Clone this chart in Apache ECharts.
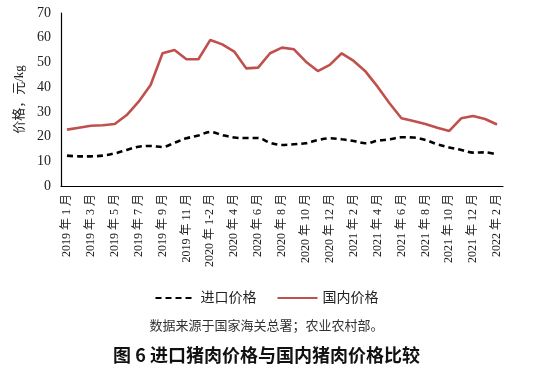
<!DOCTYPE html>
<html><head><meta charset="utf-8">
<script src="https://cdn.jsdelivr.net/npm/echarts@6/dist/echarts.min.js"></script>
<style>html,body{margin:0;padding:0;background:#fff}#c{width:533px;height:375px}</style>
</head><body><div id="c"></div>
<script>
const categories = [
  "2019 年 1 月","2019 年 2 月","2019 年 3 月","2019 年 4 月","2019 年 5 月","2019 年 6 月",
  "2019 年 7 月","2019 年 8 月","2019 年 9 月","2019 年 10 月","2019 年 11 月","2019 年 12 月",
  "2020 年 1-2 月","2020 年 3 月","2020 年 4 月","2020 年 5 月","2020 年 6 月","2020 年 7 月",
  "2020 年 8 月","2020 年 9 月","2020 年 10 月","2020 年 11 月","2020 年 12 月",
  "2021 年 1 月","2021 年 2 月","2021 年 3 月","2021 年 4 月","2021 年 5 月","2021 年 6 月",
  "2021 年 7 月","2021 年 8 月","2021 年 9 月","2021 年 10 月","2021 年 11 月","2021 年 12 月",
  "2022 年 1 月","2022 年 2 月"
];
const importPrice = [12.3,12.0,12.0,12.3,13.2,14.6,15.9,16.2,15.8,17.5,19.3,20.4,
  21.9,20.6,19.6,19.4,19.4,17.5,16.6,16.9,17.3,18.6,19.3,
  18.9,18.2,17.3,18.3,18.9,19.7,19.6,18.6,16.9,15.6,14.6,13.5,13.6,12.7];
const domesticPrice = [22.8,23.6,24.4,24.6,25.1,28.7,34.1,40.9,53.7,55.0,51.3,51.3,
  59.1,57.3,54.4,47.6,47.9,53.7,56.0,55.3,50.3,46.5,49.0,
  53.7,50.6,46.3,40.2,33.5,27.4,26.3,25.1,23.6,22.3,27.4,28.3,27.1,24.9];
const seriesNames = ["进口价格","国内价格"];
const yTicks = {min:0,max:70,interval:10};
const yName = "价格，元/kg";
const sourceText = "数据来源于国家海关总署；农业农村部。";
const titleText = "图 6 进口猪肉价格与国内猪肉价格比较";

const serif = '"Liberation Serif","Noto Sans CJK SC",serif';
const chart = echarts.init(document.getElementById('c'));
chart.setOption({
  animation:false,
  backgroundColor:'#fff',
  grid:{left:61,right:30,top:13,bottom:189,containLabel:false},
  title:[
    {text:sourceText,left:'center',top:314,textStyle:{fontFamily:'"Noto Sans CJK SC"',fontSize:13,fontWeight:'normal',color:'#333'}},
    {text:titleText,left:'center',top:341,textStyle:{fontFamily:'"Noto Sans CJK SC"',fontSize:18,fontWeight:'bold',color:'#111'}}
  ],
  legend:{
    top:286,left:'center',itemGap:20,itemWidth:40,itemHeight:2,
    itemStyle:{opacity:0},
    textStyle:{fontFamily:serif,fontSize:14,color:'#222'},
    data:seriesNames
  },
  xAxis:{
    type:'category',data:categories,boundaryGap:true,
    axisLine:{lineStyle:{color:'#000',width:1.2}},
    axisTick:{show:false},
    axisLabel:{interval:1,rotate:90,fontFamily:serif,fontSize:12,color:'#222',margin:8}
  },
  yAxis:{
    type:'value',min:yTicks.min,max:yTicks.max,interval:yTicks.interval,
    name:yName,nameLocation:'middle',nameGap:34,nameRotate:90,
    nameTextStyle:{fontFamily:serif,fontSize:13,color:'#222'},
    axisLine:{show:true,lineStyle:{color:'#000',width:1.2}},
    axisTick:{show:false},splitLine:{show:false},
    axisLabel:{fontFamily:serif,fontSize:14,color:'#222',margin:10}
  },
  series:[
    {name:seriesNames[0],type:'line',data:importPrice,symbol:'none',smooth:0.35,
     lineStyle:{color:'#000',width:2.6,type:[6,4]},itemStyle:{color:'#000'}},
    {name:seriesNames[1],type:'line',data:domesticPrice,symbol:'none',smooth:false,
     lineStyle:{color:'#C0504D',width:2.6},itemStyle:{color:'#C0504D'}}
  ]
});
</script></body></html>
